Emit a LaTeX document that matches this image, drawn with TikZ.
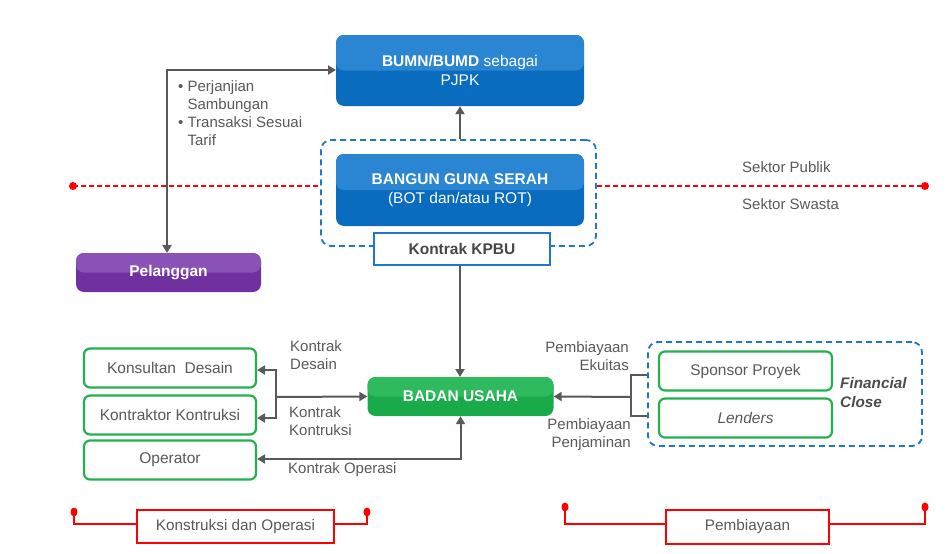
\documentclass[tikz,border=0pt]{standalone}
\usepackage{fontspec}
\setmainfont{Liberation Sans}
\usetikzlibrary{arrows.meta,positioning}
\definecolor{bluebox}{HTML}{0A6CBF}
\definecolor{bluelite}{HTML}{2A86D2}
\definecolor{framblue}{HTML}{1E78C8}
\definecolor{purp}{HTML}{7030A0}
\definecolor{purplite}{HTML}{8A52B6}
\definecolor{grn}{HTML}{19AA4A}
\definecolor{grnlite}{HTML}{2FBA5E}
\definecolor{grnborder}{HTML}{22B14C}
\definecolor{arrgray}{HTML}{595959}
\definecolor{txtgray}{HTML}{595959}
\definecolor{redl}{HTML}{FF0000}
\tikzset{
  solidbox/.style={rounded corners=8pt, inner sep=0pt, text=white, align=center,
    font=\fontsize{15.5}{19}\selectfont},
  bluebx/.style={solidbox, fill=bluebox, path picture={\fill[bluelite] (path picture bounding box.north west) rectangle (path picture bounding box.east);}},
  purpbx/.style={solidbox, fill=purp, path picture={\fill[purplite] (path picture bounding box.north west) rectangle (path picture bounding box.east);}},
  grnbx/.style={solidbox, fill=grn, path picture={\fill[grnlite] (path picture bounding box.north west) rectangle (path picture bounding box.east);}},
  whitebx/.style={draw=grnborder, line width=2.2pt, rounded corners=6pt, fill=white, text=txtgray,
    minimum width=172pt, minimum height=39pt, inner sep=0pt, font=\fontsize{15.5}{18}\selectfont},
  dashframe/.style={draw=framblue, line width=1.8pt, dash pattern=on 6pt off 4pt, rounded corners=10pt, inner sep=0pt},
  conn/.style={draw=arrgray, line width=2pt, -{Triangle[length=8pt,width=9pt]}},
  conn2/.style={draw=arrgray, line width=2pt, {Triangle[length=8pt,width=9pt]}-{Triangle[length=8pt,width=9pt]}},
  plain/.style={draw=arrgray, line width=2pt},
  lbl/.style={text=txtgray, font=\fontsize{15}{18}\selectfont, inner sep=0pt},
  redln/.style={draw=redl, line width=1.6pt},
  reddash/.style={draw=redl, line width=1.6pt, dash pattern=on 5pt off 3pt},
  redbx/.style={draw=redl, line width=1.4pt, fill=white, text=txtgray, inner sep=0pt, font=\fontsize{15.3}{18}\selectfont},
}
\begin{document}
\begin{tikzpicture}[x=1pt,y=-1pt]
\useasboundingbox (0,0) rectangle (951,554);
% frames
\node[dashframe, minimum width=275pt, minimum height=106pt] (kpbuframe) at (458.5,193) {};
\node[dashframe, minimum width=274pt, minimum height=104pt] (finframe) at (785,394) {};
% blue boxes
\node[bluebx, minimum width=248pt, minimum height=71pt] (bumn) at (460,70.5) {\textbf{BUMN/BUMD} sebagai\\PJPK};
\node[bluebx, minimum width=248pt, minimum height=72pt] (bgs) at (460,190) {\textbf{BANGUN GUNA SERAH}\\(BOT dan/atau ROT)};
\node[draw=framblue, line width=1.2pt, fill=white, minimum width=176pt, minimum height=32pt, inner sep=0pt,
  text=arrgray!80!black, font=\fontsize{15.5}{18}\selectfont\bfseries] (kpbu) at (462,249) {Kontrak KPBU};
% red sector line
\coordinate (rl) at (73,186);
\coordinate (rr) at (925,186);
\draw[reddash] (rl) -- (kpbuframe.west |- rl);
\draw[reddash] (kpbuframe.east |- rr) -- (rr);
\fill[redl] (rl) circle (4pt);
\fill[redl] (rr) circle (4pt);
\node[lbl, anchor=west] (publik) at (742,167) {Sektor Publik};
\node[lbl, anchor=west] (swasta) at (742,204) {Sektor Swasta};
% pelanggan
\node[purpbx, minimum width=185pt, minimum height=39pt, font=\fontsize{15.5}{18}\selectfont\bfseries] (pel) at (168.5,272.5) {Pelanggan};
\coordinate (pelTop) at (167,253);
\coordinate (bumnL) at (336,70);
\draw[conn2] (pelTop) |- (bumnL);
\node[lbl, anchor=north west, align=left] (bul) at (178,80) {\textbullet\ Perjanjian\\\phantom{\textbullet\ }Sambungan\\\textbullet\ Transaksi Sesuai\\\phantom{\textbullet\ }Tarif};
% arrows top
\draw[conn] (kpbuframe.north -| bumn.south) -- (bumn.south);
\draw[conn] (kpbu.south -| bumn.south) -- (460,377);
% badan usaha
\node[grnbx, minimum width=186pt, minimum height=39pt, font=\fontsize{15.5}{18}\selectfont\bfseries] (badan) at (460.5,396.5) {BADAN USAHA};
% left boxes
\node[whitebx] (kons) at (170,368) {Konsultan\ \ Desain};
\node[whitebx] (kontr) at (170,415) {Kontraktor Kontruksi};
\node[whitebx] (oper) at (170,460) {Operator};
\coordinate (lb) at (276,397);
\draw[conn] (lb) -- (badan.west);
\draw[conn] (lb) |- ([yshift=-2pt]kons.east);
\draw[conn] (lb) |- ([yshift=-3pt]kontr.east);
\draw[conn2] (badan.south) |- ([yshift=1pt]oper.east);
\node[lbl, anchor=north west, align=left] (kd) at (290,340) {Kontrak\\Desain};
\node[lbl, anchor=north west, align=left] (kk) at (289,406) {Kontrak\\Kontruksi};
\node[lbl, anchor=west] (ko) at (288,470) {Kontrak Operasi};
% right boxes
\node[whitebx, minimum width=173pt] (spons) at (745.5,371) {Sponsor Proyek};
\node[whitebx, minimum width=173pt] (lend) at (745.5,418) {\itshape Lenders};
\node[anchor=north west, align=left, inner sep=0pt, text=arrgray!85!black, font=\fontsize{15.3}{19}\selectfont\bfseries\itshape] (fc) at (840,377) {Financial\\Close};
\coordinate (rb) at (631,397);
\coordinate (rt) at (631,375);
\coordinate (rbt) at (631,416);
\draw[plain] (finframe.west |- rt) -- (rt) -- (rbt) -- (finframe.west |- rbt);
\draw[conn] (rb) -- (badan.east);
\node[lbl, anchor=north east, align=right] (pe) at (629,341) {Pembiayaan\\Ekuitas};
\node[lbl, anchor=north east, align=right] (pp) at (631,418) {Pembiayaan\\Penjaminan};
% bottom brackets
\node[redbx, minimum width=197pt, minimum height=33pt] (bko) at (235.5,526.5) {Konstruksi dan Operasi};
\node[redbx, minimum width=163pt, minimum height=34pt] (bpb) at (747.5,527) {Pembiayaan};
\coordinate (d1) at (74,512);
\coordinate (d2) at (367,512);
\coordinate (d3) at (565,507);
\coordinate (d4) at (925,507);
\coordinate (bl) at (74,524);
\draw[redln] (d1) -- (bl) -- (bl -| bko.west);
\draw[redln] (bl -| bko.east) -| (d2);
\draw[redln] (d3) |- (bl -| bpb.west);
\draw[redln] (bl -| bpb.east) -| (d4);
\foreach \d in {d1,d2,d3,d4} \fill[redl] (\d) ellipse (3.5pt and 4.5pt);
\end{tikzpicture}
\end{document}
